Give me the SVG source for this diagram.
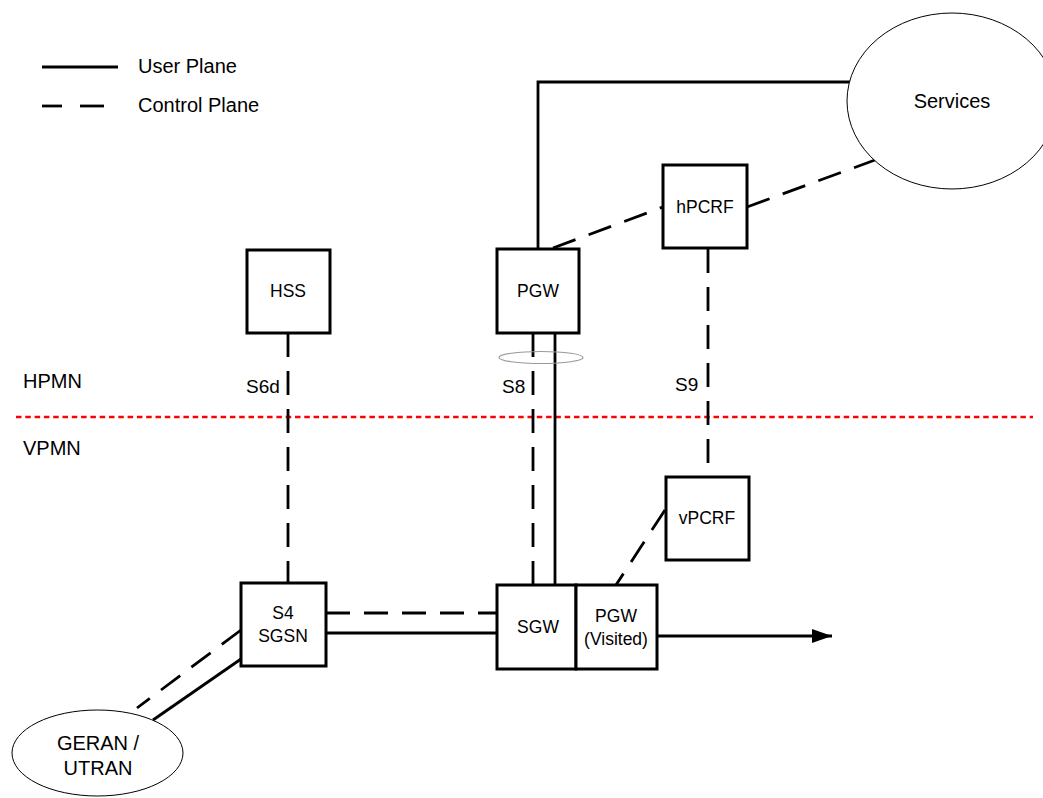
<svg xmlns="http://www.w3.org/2000/svg" width="1043" height="798" viewBox="0 0 1043 798">
<style>
text{font-family:"Liberation Sans",Arial,sans-serif;fill:#000}
.lbl{font-size:20px}
.box{fill:#fff;stroke:#000;stroke-width:3}
.bt{font-size:17.5px;text-anchor:middle}
.ell{fill:#fff;stroke:#000;stroke-width:1}
.up{fill:none;stroke:#000;stroke-width:2.8}
.cp{fill:none;stroke:#000;stroke-width:2.8;stroke-dasharray:24 14}
</style>
<defs>
<marker id="arr" markerWidth="20" markerHeight="14" refX="20" refY="7" orient="auto" markerUnits="userSpaceOnUse">
<path d="M0,0 L20,7 L0,14 Z" fill="#000"/>
</marker>
</defs>
<rect width="1043" height="798" fill="#fff"/>
<g id="legend">
<line class="up" x1="42" y1="67" x2="118" y2="67"/>
<line class="up" x1="42" y1="106" x2="62" y2="106"/>
<line class="up" x1="80" y1="106" x2="104" y2="106"/>
<text class="lbl" x="138" y="73">User Plane</text>
<text class="lbl" x="138" y="112">Control Plane</text>
</g>
<g id="boundary">
<line x1="16" y1="417" x2="1033" y2="417" stroke="#ff0000" stroke-width="2.7" stroke-dasharray="5.5 3.8"/>
<text class="lbl" x="23" y="388">HPMN</text>
<text class="lbl" x="23" y="455">VPMN</text>
</g>
<g id="connectors">
<polyline class="up" points="538,249 538,82 850,82"/>
<line class="cp" x1="553" y1="248" x2="663" y2="207"/>
<line class="cp" x1="747" y1="207" x2="875" y2="160"/>
<line class="cp" x1="708" y1="249" x2="708" y2="465"/>
<line class="cp" x1="288" y1="333" x2="288" y2="584"/>
<line class="cp" x1="533" y1="333" x2="533" y2="585"/>
<line class="up" x1="555" y1="333" x2="555" y2="585"/>
<ellipse cx="541" cy="357.5" rx="42" ry="6" fill="none" stroke="#999" stroke-width="1.2"/>
<line class="cp" x1="326" y1="613" x2="497" y2="613"/>
<line class="up" x1="326" y1="633" x2="497" y2="633"/>
<line class="cp" x1="665" y1="510" x2="616" y2="585"/>
<line class="cp" x1="241" y1="630" x2="137" y2="708"/>
<line class="up" x1="241" y1="659" x2="153" y2="720"/>
<line class="up" x1="657" y1="636" x2="832" y2="636" marker-end="url(#arr)"/>
<text class="lbl" x="246" y="393" style="font-size:19px">S6d</text>
<text class="lbl" x="502" y="393" style="font-size:19px">S8</text>
<text class="lbl" x="675" y="391" style="font-size:19px">S9</text>
</g>
<g id="services">
<ellipse class="ell" cx="952" cy="101" rx="105" ry="88"/>
<text class="lbl" x="952" y="108" text-anchor="middle">Services</text>
</g>
<g id="hss">
<rect class="box" x="247" y="250" width="83" height="83"/>
<text class="bt" x="288" y="297">HSS</text>
</g>
<g id="pgw">
<rect class="box" x="497" y="249" width="82" height="84"/>
<text class="bt" x="538" y="297">PGW</text>
</g>
<g id="hpcrf">
<rect class="box" x="663" y="165" width="84" height="83"/>
<text class="bt" x="705" y="213">hPCRF</text>
</g>
<g id="vpcrf">
<rect class="box" x="666" y="477" width="83" height="83"/>
<text class="bt" x="707" y="524">vPCRF</text>
</g>
<g id="sgsn">
<rect class="box" x="241" y="583" width="85" height="83"/>
<text class="bt" x="283" y="619">S4</text>
<text class="bt" x="283" y="642">SGSN</text>
</g>
<g id="sgw">
<rect class="box" x="497" y="585" width="79" height="84"/>
<text class="bt" x="538" y="633">SGW</text>
</g>
<g id="pgw-visited">
<rect class="box" x="576" y="585" width="81" height="84"/>
<text class="bt" x="616" y="622">PGW</text>
<text class="bt" x="616" y="645">(Visited)</text>
</g>
<g id="geran-utran">
<ellipse class="ell" cx="97.5" cy="753" rx="85.5" ry="43"/>
<text class="lbl" x="98" y="750" text-anchor="middle">GERAN /</text>
<text class="lbl" x="98" y="775" text-anchor="middle">UTRAN</text>
</g>
</svg>
